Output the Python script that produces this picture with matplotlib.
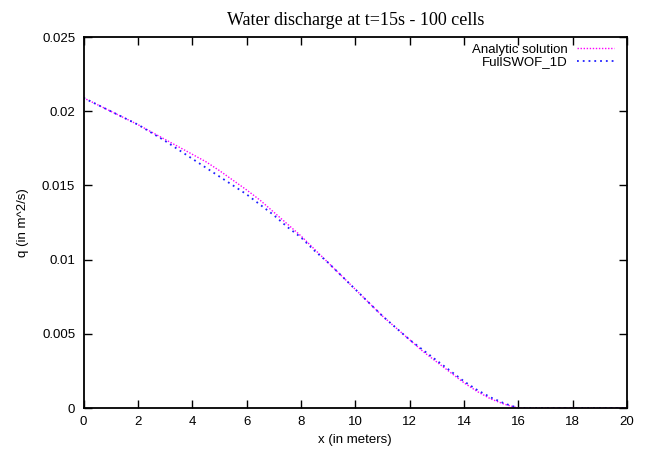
import matplotlib
matplotlib.use('Agg')
import matplotlib.pyplot as plt

# ==================== Data ====================
x_analytic = [0, 0.5, 1, 1.5, 2, 2.5, 3, 3.5, 4, 4.5, 5, 5.5, 6, 6.5, 7, 7.5,
              8, 8.5, 9, 9.5, 10, 10.5, 11, 11.5, 12, 12.5, 13, 13.5, 14,
              14.5, 15, 15.5, 16, 17, 18, 19, 20]
q_analytic = [0.0209, 0.02045, 0.0200, 0.01955, 0.0191, 0.0186, 0.0181,
              0.0176, 0.0171, 0.0166, 0.0160, 0.01535, 0.0147, 0.0140,
              0.0132, 0.0124, 0.0116, 0.0107, 0.0098, 0.0089, 0.0080,
              0.0071, 0.0062, 0.0054, 0.0046, 0.0038, 0.0031, 0.0024,
              0.0017, 0.0011, 0.0006, 0.00025, 0.0, 0.0, 0.0, 0.0, 0.0]

x_fullswof = [0, 0.5, 1, 1.5, 2, 2.5, 3, 3.5, 4, 4.5, 5, 5.5, 6, 6.5, 7, 7.5,
              8, 8.5, 9, 9.5, 10, 10.5, 11, 11.5, 12, 12.5, 13, 13.5, 14,
              14.5, 15, 15.5, 16, 17, 18, 19, 20]
q_fullswof = [0.0209, 0.02045, 0.0200, 0.01955, 0.0191, 0.01855, 0.0180,
              0.0174, 0.0168, 0.0162, 0.0156, 0.0150, 0.0144, 0.0137,
              0.0130, 0.0122, 0.0115, 0.0106, 0.0098, 0.0089, 0.0080,
              0.0071, 0.0062, 0.0054, 0.0046, 0.0039, 0.0032, 0.0025,
              0.0018, 0.0012, 0.0007, 0.0003, 0.0, 0.0, 0.0, 0.0, 0.0]

x_ticks = [0, 2, 4, 6, 8, 10, 12, 14, 16, 18, 20]
y_ticks = [0, 0.005, 0.01, 0.015, 0.02, 0.025]
y_ticklabels = ['0', '0.005', '0.01', '0.015', '0.02', '0.025']

# ==================== Figure ====================
plt.rcParams['font.family'] = ['Liberation Sans', 'DejaVu Sans']
fig = plt.figure(figsize=(6.46, 4.51), dpi=100)
ax = fig.add_axes([0.1293, 0.0953, 0.8413, 0.8226])

ax.plot(x_analytic, q_analytic, color='#ff00ff', lw=1.0,
        linestyle=(0, (1, 1.2)), label='Analytic solution')
ax.plot(x_fullswof, q_fullswof, color='#2020ff', lw=1.3,
        linestyle=(0, (1, 2.2)), label='FullSWOF_1D')

ax.set_xlim(0, 20)
ax.set_ylim(0, 0.025)
ax.set_xticks(x_ticks)
ax.set_yticks(y_ticks)
ax.set_yticklabels(y_ticklabels)
ax.tick_params(direction='in', length=6, width=1, top=True, right=True,
               labelsize=9.5, pad=6)
for s in ax.spines.values():
    s.set_linewidth(1.3)

ax.set_xlabel('x (in meters)', fontsize=9.5, labelpad=4)
ax.set_ylabel('q (in m^2/s)', fontsize=9.5, labelpad=9)
ax.set_title('Water discharge at t=15s - 100 cells', fontsize=13,
             family='Liberation Serif', pad=9)

ax.legend(loc='upper right', frameon=False, markerfirst=False, fontsize=9.5,
          handlelength=2.8, handletextpad=0.7, labelspacing=0.05,
          borderaxespad=0.0, bbox_to_anchor=(0.985, 0.997))

fig.savefig('out.png', dpi=100)
